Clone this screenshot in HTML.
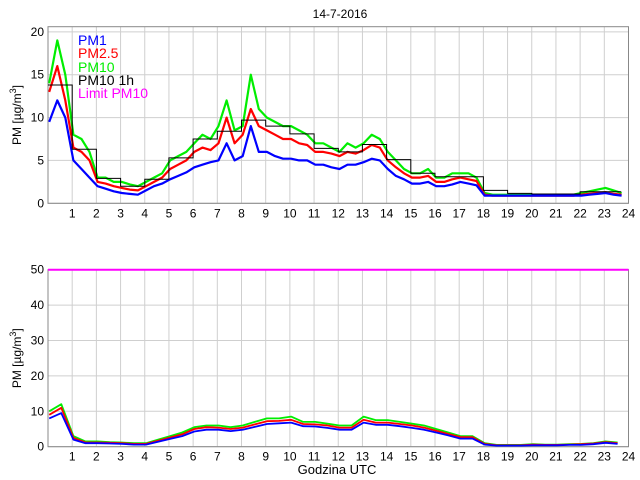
<!DOCTYPE html>
<html><head><meta charset="utf-8"><style>
body{margin:0;background:#fff}
svg{display:block;font-family:"Liberation Sans",sans-serif}
</style></head><body>
<svg id="chart" width="640" height="480" viewBox="0 0 640 480" xmlns="http://www.w3.org/2000/svg">
<rect width="640" height="480" fill="#fff"/>
<text x="340" y="18" font-size="12" text-anchor="middle">14-7-2016</text>
<g id="top"></g><g id="bot"></g>
<g font-size="14">
<text x="78" y="45" fill="#0000ff">PM1</text>
<text x="78" y="58" fill="#ff0000">PM2.5</text>
<text x="78" y="72" fill="#00ee00">PM10</text>
<text x="78" y="85" fill="#000">PM10 1h</text>
<text x="78" y="98" fill="#ff00ff">Limit PM10</text>
</g>
<text x="337" y="474" font-size="13" text-anchor="middle">Godzina UTC</text>
</svg>
<script>
// top panel series, one value per 20 minutes
const topPM10=[14,19,15,8,7.5,6,3,3,2.5,2.5,2.2,2,2.5,3,3.5,5,5.5,6,7,8,7.5,9,12,8.5,9,15,11,10,9.5,9,9,8.5,8,7,7,6.5,6,7,6.5,7,8,7.5,6,5,4,3.5,3.5,4,3,3,3.5,3.5,3.5,3,1.2,1,1,1,1,1,1,1,1,1,1,1,1.2,1.4,1.6,1.8,1.5,1.2];
const topPM25=[13,16,12,6.5,6,5,2.5,2.3,2,1.8,1.6,1.5,2,2.5,3,4,4.5,5,6,6.5,6.2,7,10,7,8,11,9,8.5,8,7.5,7.5,7,6.8,6,6,5.8,5.5,6,5.8,6.2,6.8,6.5,5,4.2,3.5,3,3,3.2,2.5,2.5,2.8,3,2.8,2.6,1,0.9,0.9,0.9,0.9,0.9,0.9,0.9,0.9,0.9,0.9,0.9,1,1.1,1.2,1.3,1.1,1];
const topPM1=[9.5,12,10,5,4,3,2,1.7,1.4,1.2,1.1,1,1.5,2,2.3,2.8,3.2,3.6,4.2,4.5,4.8,5,7,5,5.5,9,6,6,5.5,5.2,5.2,5,5,4.5,4.5,4.2,4,4.5,4.5,4.8,5.2,5,4,3.2,2.8,2.3,2.3,2.5,2,2,2.2,2.5,2.3,2.1,0.9,0.9,0.9,0.9,0.9,0.9,0.9,0.9,0.9,0.9,0.9,0.9,0.9,1,1.1,1.2,1,0.9];
const hourlyPM10=[13.8,6.3,2.9,2.0,2.8,5.3,7.5,8.4,9.7,9.0,8.1,6.4,6.0,6.86,5.1,3.5,3.1,3.1,1.5,1.16,1.08,1.08,1.35,1.35];
// bottom panel series, one value per 30 minutes
const botPM10=[10,12,3,1.5,1.5,1.3,1.2,1,1,2,3,4,5.5,6,6,5.5,6,7,8,8,8.5,7,7,6.5,6,6,8.5,7.5,7.5,7,6.5,6,5,4,3,3,1,0.5,0.5,0.5,0.7,0.6,0.6,0.7,0.8,1,1.5,1.2];
const botPM25=[9,11,2.5,1.2,1.2,1.1,1,0.8,0.8,1.7,2.6,3.5,5,5.5,5.4,5,5.4,6.3,7.2,7.3,7.6,6.4,6.3,6,5.4,5.4,7.6,6.8,6.8,6.4,6,5.4,4.5,3.6,2.7,2.7,0.8,0.4,0.4,0.4,0.6,0.5,0.5,0.6,0.7,0.9,1.3,1];
const botPM1=[8,9.5,2,1,1,0.9,0.8,0.6,0.6,1.4,2.2,3,4.3,4.8,4.8,4.4,4.8,5.6,6.4,6.6,6.8,5.8,5.7,5.3,4.8,4.8,6.8,6.2,6.2,5.8,5.3,4.8,4,3.2,2.3,2.3,0.6,0.3,0.3,0.3,0.4,0.4,0.4,0.5,0.5,0.7,1.1,0.8];
const limitPM10=50;
const hourTicks=[1,2,3,4,5,6,7,8,9,10,11,12,13,14,15,16,17,18,19,20,21,22,23,24];
const topYTicks=[0,5,10,15,20];
const botYTicks=[0,10,20,30,40,50];

const NS='http://www.w3.org/2000/svg';
const X0=48,X1=628.5;
function xs(h){return X0+(X1-X0)*h/24;}
function mk(tag,attrs,parent){const e=document.createElementNS(NS,tag);for(const k in attrs)e.setAttribute(k,attrs[k]);parent.appendChild(e);return e;}

function panel(g,top,bottom,ymax,yticks,ys,name){
  for(const h of hourTicks){
    const l=mk('line',{x1:xs(h),x2:xs(h),y1:top,y2:bottom,stroke:'#cfcfcf','stroke-width':1},g);
    
    
    const t=mk('text',{x:xs(h),y:bottom+14,'font-size':12,'text-anchor':'middle'},g);
    t.textContent=h;
    
    
  }
  for(const v of yticks){
    const l=mk('line',{x1:X0,x2:X1,y1:ys(v),y2:ys(v),stroke:'#cfcfcf','stroke-width':1},g);
    
    
    const t=mk('text',{x:X0-4,y:ys(v)+4,'font-size':12,'text-anchor':'end'},g);
    t.textContent=v;
    
    
  }
  const r=mk('rect',{x:X0,y:top,width:X1-X0,height:bottom-top,fill:'none',stroke:'#888','stroke-width':1},g);
  
  
  const cy=(top+bottom)/2;
  const yl=mk('text',{x:0,y:0,'font-size':12,'text-anchor':'middle',transform:`translate(21,${cy}) rotate(-90)`},g);
  yl.innerHTML='PM [µg/m<tspan dy="-5" font-size="9">3</tspan><tspan dy="5">]</tspan>';
  
  
}
function series(g,arr,step,ys,color,name,w){
  const pts=arr.map((v,i)=>xs(0.05+i*step).toFixed(1)+','+ys(v).toFixed(1)).join(' ');
  const p=mk('polyline',{points:pts,fill:'none',stroke:color,'stroke-width':w,'stroke-linejoin':'round'},g);
  
  
}
// top
const gt=document.getElementById('top');
const TT=26.7,TB=203.3,TMAX=20.6;
const yt=v=>TB-(TB-TT)*v/TMAX;
panel(gt,TT,TB,TMAX,topYTicks,yt,'top-plot');
series(gt,topPM10,1/3,yt,'#00ee00','pm10-line',2.2);
series(gt,topPM25,1/3,yt,'#ff0000','pm25-line',2.2);
series(gt,topPM1,1/3,yt,'#0000ff','pm1-line',2.2);
let sp='';
hourlyPM10.forEach((v,i)=>{sp+=(i?' ':'')+xs(i).toFixed(1)+','+yt(v).toFixed(1)+' '+xs(Math.min(i+1,23.7)).toFixed(1)+','+yt(v).toFixed(1);});
const st=mk('polyline',{points:sp,fill:'none',stroke:'#000','stroke-width':1},gt);


// bottom
const gb=document.getElementById('bot');
const BT=269.7,BB=446.7,BMAX=50;
const yb=v=>BB-(BB-BT)*v/BMAX;
panel(gb,BT,BB,BMAX,botYTicks,yb,'bottom-plot');
series(gb,botPM10,0.5,yb,'#00ee00','bottom-pm10-line',1.8);
series(gb,botPM25,0.5,yb,'#ff0000','bottom-pm25-line',1.8);
series(gb,botPM1,0.5,yb,'#0000ff','bottom-pm1-line',1.8);
const lim=mk('line',{x1:X0,x2:X1,y1:yb(limitPM10),y2:yb(limitPM10),stroke:'#ff00ff','stroke-width':2},gb);


</script>
</body></html>
